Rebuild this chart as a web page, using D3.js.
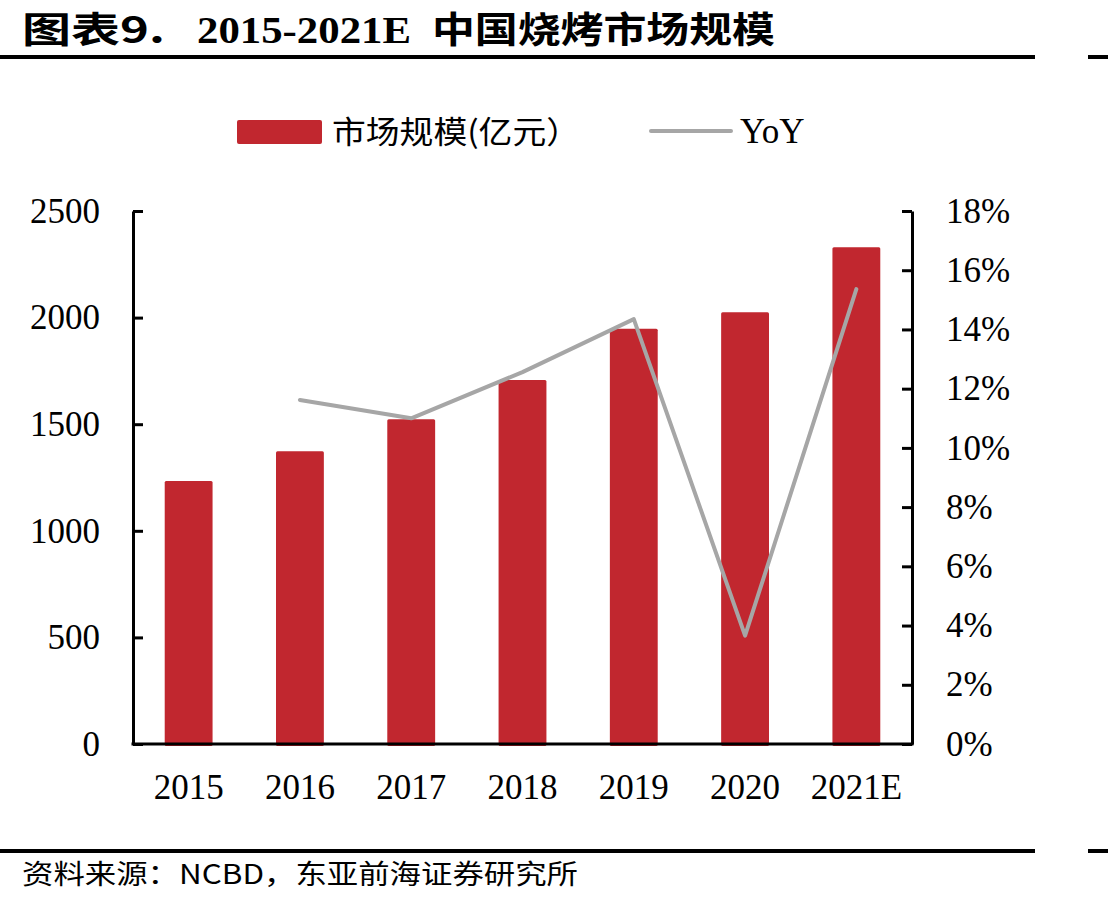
<!DOCTYPE html>
<html>
<head>
<meta charset="utf-8">
<script src="https://cdn.jsdelivr.net/npm/d3@7"></script>
<style>
  body { margin: 0; background: #fff; }
  svg text { font-family: "Liberation Serif", "Noto Sans CJK SC", serif; }
</style>
</head>
<body>
<div id="vis"></div>
<script>
// chart values
const years = ["2015", "2016", "2017", "2018", "2019", "2020", "2021E"];
const marketSize = [1234, 1373, 1523, 1707, 1948, 2025, 2330];   // 亿元
const yoy = [null, 11.62, 11.0, 12.56, 14.35, 3.66, 15.36];      // %
const leftTicks = [0, 500, 1000, 1500, 2000, 2500];
const rightTicks = [0, 2, 4, 6, 8, 10, 12, 14, 16, 18];

const W = 1108, H = 904;
let margin = { top: 211, left: 133, right: 196, bottom: 160 },
    width = W - margin.left - margin.right,
    height = H - margin.top - margin.bottom;

const root = d3.select("#vis")
  .append("svg")
    .attr("width", W)
    .attr("height", H);

// title + rules (source glyphs are stretched wide, so fit them to width)
root.append("text")
  .attr("x", 22).attr("y", 43)
  .attr("textLength", 143).attr("lengthAdjust", "spacingAndGlyphs")
  .style("font-size", "36px").style("font-weight", "bold")
  .style("font-family", "'Noto Sans CJK SC', sans-serif")
  .text("图表9.");
root.append("text")
  .attr("x", 197).attr("y", 43)
  .attr("textLength", 214).attr("lengthAdjust", "spacingAndGlyphs")
  .style("font-size", "37px").style("font-weight", "bold")
  .text("2015-2021E");
root.append("text")
  .attr("x", 432).attr("y", 43)
  .attr("textLength", 343).attr("lengthAdjust", "spacingAndGlyphs")
  .style("font-size", "36px").style("font-weight", "bold")
  .style("font-family", "'Noto Sans CJK SC', sans-serif")
  .text("中国烧烤市场规模");

[57, 851].forEach(yy => {
  root.append("line").attr("x1", 0).attr("x2", 1035).attr("y1", yy).attr("y2", yy)
    .attr("stroke", "#000").attr("stroke-width", 4);
  root.append("line").attr("x1", 1088).attr("x2", 1108).attr("y1", yy).attr("y2", yy)
    .attr("stroke", "#000").attr("stroke-width", 4);
});

root.append("text")
  .attr("x", 22).attr("y", 884)
  .attr("textLength", 556).attr("lengthAdjust", "spacingAndGlyphs")
  .style("font-size", "27px")
  .style("font-family", "'Noto Sans CJK SC', sans-serif")
  .text("资料来源：NCBD，东亚前海证券研究所");

// legend
root.append("rect")
  .attr("x", 237).attr("y", 120).attr("width", 85).attr("height", 24).attr("rx", 2)
  .attr("fill", "#C1272F");
root.append("text")
  .attr("x", 332).attr("y", 143)
  .attr("textLength", 248).attr("lengthAdjust", "spacingAndGlyphs")
  .style("font-size", "31px")
  .style("font-family", "'Noto Sans CJK SC', sans-serif")
  .text("市场规模(亿元）");
root.append("line")
  .attr("x1", 651).attr("x2", 731).attr("y1", 131).attr("y2", 131)
  .attr("stroke", "#A6A6A6").attr("stroke-width", 4).attr("stroke-linecap", "round");
root.append("text")
  .attr("x", 740).attr("y", 143)
  .style("font-size", "35px")
  .text("YoY");

const svg = root.append("g")
  .attr("transform", `translate(${margin.left},${margin.top})`);

const x = d3.scaleBand()
  .domain(years)
  .range([0, width])
  .paddingInner(0.57)
  .paddingOuter(0.285);

const y = d3.scaleLinear().domain([0, 2500]).range([height, 0]);
const y2 = d3.scaleLinear().domain([0, 18]).range([height, 0]);

// bars
svg.selectAll(".bar")
  .data(years)
  .join("rect")
    .attr("class", "bar")
    .attr("x", d => x(d))
    .attr("width", x.bandwidth())
    .attr("y", (d, i) => y(marketSize[i]))
    .attr("height", (d, i) => y(0) - y(marketSize[i]) + 2)
    .attr("rx", 1.5)
    .attr("fill", "#C1272F");

// yoy line
const pts = years.map((d, i) => ({ year: d, v: yoy[i] })).filter(p => p.v !== null);
svg.append("path")
  .datum(pts)
  .attr("fill", "none")
  .attr("stroke", "#A6A6A6")
  .attr("stroke-width", 4)
  .attr("stroke-linejoin", "round")
  .attr("stroke-linecap", "round")
  .attr("d", d3.line()
    .x(p => x(p.year) + x.bandwidth() / 2)
    .y(p => y2(p.v)));

// axes
const leftAxis = svg.append("g")
  .call(d3.axisLeft(y).tickValues(leftTicks).tickSizeInner(-10).tickSizeOuter(0).tickPadding(33)
    .tickFormat(d3.format("d")));
const rightAxis = svg.append("g")
  .attr("transform", `translate(${width},0)`)
  .call(d3.axisRight(y2).tickValues(rightTicks).tickSizeInner(-10).tickSizeOuter(0).tickPadding(34)
    .tickFormat(d => d + "%"));
const bottomAxis = svg.append("g")
  .attr("transform", `translate(0,${height})`)
  .call(d3.axisBottom(x).tickSize(0).tickPadding(30));

[leftAxis, rightAxis, bottomAxis].forEach(g => {
  g.selectAll("path, line").attr("stroke", "#000").attr("stroke-width", 3);
  g.selectAll("text")
    .attr("fill", "#000")
    .style("font-size", "35px")
    .style("font-family", "'Liberation Serif', serif");
});
bottomAxis.select(".domain").attr("d", `M-1.5,0H${width + 1.5}`);
</script>
</body>
</html>
